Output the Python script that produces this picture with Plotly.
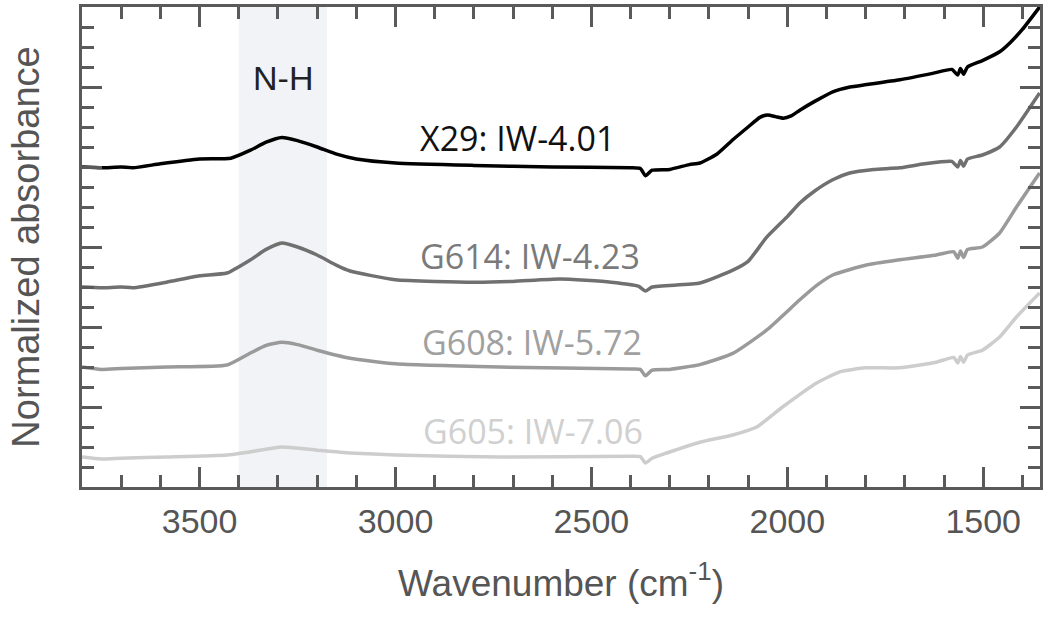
import plotly.graph_objects as go

# ---- data ----
x29_wn = [3800, 3750, 3700, 3670, 3600, 3500, 3420, 3370, 3330, 3290, 3250, 3200, 3150, 3100,
          3000, 2800, 2600, 2400, 2375, 2362, 2345, 2300, 2250, 2223, 2180, 2139, 2100, 2070,
          2050, 2030, 2010, 1990, 1968, 1930, 1884, 1840, 1798, 1713, 1629, 1580, 1565, 1558,
          1550, 1540, 1502, 1458, 1430, 1400, 1356]
x29_abs = [4.00, 3.99, 4.00, 3.99, 4.04, 4.10, 4.11, 4.21, 4.31, 4.37, 4.33, 4.25, 4.16, 4.10,
           4.05, 4.02, 4.00, 3.99, 3.98, 3.89, 3.96, 3.97, 4.03, 4.05, 4.16, 4.34, 4.50, 4.62,
           4.65, 4.63, 4.61, 4.64, 4.71, 4.82, 4.94, 5.00, 5.03, 5.09, 5.17, 5.22, 5.15, 5.23,
           5.16, 5.25, 5.33, 5.44, 5.56, 5.72, 6.00]

g614_wn = [3800, 3750, 3700, 3670, 3584, 3500, 3430, 3370, 3330, 3290, 3250, 3200, 3150, 3116,
           3000, 2800, 2700, 2580, 2450, 2380, 2362, 2345, 2223, 2139, 2100, 2053, 2000, 1968,
           1930, 1884, 1841, 1780, 1713, 1650, 1580, 1565, 1558, 1550, 1540, 1502, 1458, 1415, 1356]
g614_abs = [2.50, 2.49, 2.50, 2.49, 2.56, 2.64, 2.675, 2.84, 2.97, 3.05, 3.00, 2.90, 2.77, 2.70,
            2.59, 2.56, 2.57, 2.60, 2.56, 2.51, 2.45, 2.50, 2.55, 2.71, 2.82, 3.12, 3.38, 3.55,
            3.70, 3.84, 3.925, 3.97, 3.99, 4.04, 4.07, 4.00, 4.08, 4.01, 4.10, 4.15, 4.25, 4.50, 4.925]

g608_wn = [3800, 3750, 3700, 3584, 3430, 3370, 3330, 3290, 3250, 3200, 3116, 3000, 2734, 2400,
           2375, 2362, 2345, 2300, 2223, 2139, 2053, 1968, 1925, 1884, 1798, 1713, 1620, 1575,
           1565, 1558, 1550, 1540, 1502, 1458, 1415, 1356]
g608_abs = [1.50, 1.47, 1.48, 1.50, 1.525, 1.675, 1.77, 1.81, 1.78, 1.71, 1.61, 1.54, 1.50, 1.475,
            1.47, 1.39, 1.46, 1.47, 1.53, 1.67, 1.96, 2.34, 2.52, 2.65, 2.775, 2.84, 2.90, 2.94,
            2.86, 2.95, 2.87, 2.97, 3.00, 3.175, 3.50, 3.925]

g605_wn = [3800, 3750, 3700, 3584, 3430, 3370, 3290, 3200, 3116, 3000, 2734, 2400, 2375, 2362,
           2345, 2308, 2223, 2139, 2078, 2012, 1925, 1866, 1800, 1713, 1620, 1575, 1565, 1558,
           1550, 1540, 1502, 1458, 1415, 1356]
g605_abs = [0.375, 0.35, 0.36, 0.375, 0.40, 0.44, 0.50, 0.46, 0.425, 0.40, 0.375, 0.385, 0.38, 0.30,
            0.36, 0.425, 0.56, 0.65, 0.75, 1.00, 1.30, 1.44, 1.49, 1.49, 1.56, 1.62,
            1.55, 1.63, 1.56, 1.65, 1.71, 1.875, 2.125, 2.425]

series_names = ["X29: IW-4.01", "G614: IW-4.23", "G608: IW-5.72", "G605: IW-7.06"]
series_colors = ["#000000", "#707070", "#9a9a9a", "#cdcdcd"]
label_colors = ["#111111", "#7a7a7a", "#a0a0a0", "#d0d0d0"]
label_pos = [(2688, 4.36), (2657, 2.89), (2652, 1.81), (2650, 0.70)]

nh_band = (3400, 3175)
nh_label = "N-H"

x_title = "Wavenumber (cm<sup>-1</sup>)"
y_title = "Normalized absorbance"
x_ticks = [3500, 3000, 2500, 2000, 1500]

series_x = [x29_wn, g614_wn, g608_wn, g605_wn]
series_y = [x29_abs, g614_abs, g608_abs, g605_abs]

fig = go.Figure()

fig.add_vrect(x0=nh_band[0], x1=nh_band[1], fillcolor="#f1f3f6", line_width=0, layer="below")

for xs, ys, name, col in zip(series_x, series_y, series_names, series_colors):
    fig.add_trace(go.Scatter(x=xs, y=ys, mode="lines", name=name,
                             line=dict(color=col, width=3.5, shape="spline", smoothing=0.5),
                             showlegend=False))

label_font = "Open Sans, Noto Sans, sans-serif"
for name, (lx, ly), col in zip(series_names, label_pos, label_colors):
    fig.add_annotation(x=lx, y=ly, text=name, showarrow=False,
                       font=dict(family=label_font, size=34, color=col))

fig.add_annotation(x=(nh_band[0] + nh_band[1]) / 2, y=5.11, text=nh_label, showarrow=False,
                   font=dict(family="Liberation Sans, Arial, sans-serif", size=34, color="#222222"))

axis_col = "#5a5a5a"
fig.update_layout(
    width=1050, height=618,
    margin=dict(l=82, r=10, t=7, b=131, autoexpand=False),
    paper_bgcolor="white", plot_bgcolor="white",
    font=dict(family="Liberation Sans, Arial, sans-serif", color="#555555"),
)
fig.update_xaxes(
    range=[3800, 1355], tickvals=x_ticks, ticks="inside", ticklen=20, tickwidth=2.5,
    tickcolor=axis_col, showline=True, linecolor=axis_col, linewidth=2.5, mirror="allticks",
    showgrid=False, zeroline=False, tickfont=dict(size=34, color="#555555"), automargin=False,
    ticklabelstandoff=2,
    minor=dict(dtick=100, ticks="inside", ticklen=12, tickwidth=2.5, tickcolor=axis_col, showgrid=False),
    title=dict(text=x_title, font=dict(size=37, color="#555555"), standoff=32),
)
fig.update_yaxes(
    range=[0, 6], dtick=1, ticks="inside", ticklen=20, tickwidth=2.5, tickcolor=axis_col,
    showline=True, linecolor=axis_col, linewidth=2.5, mirror="allticks", showgrid=False,
    zeroline=False, showticklabels=False, automargin=False,
    minor=dict(dtick=0.25, ticks="inside", ticklen=12, tickwidth=2.5, tickcolor=axis_col, showgrid=False),
    title=dict(text=y_title, font=dict(size=38, color="#555555"), standoff=28),
)

fig.write_html("out.html", config={"displayModeBar": False},
               post_script="document.body.style.margin='0';")
